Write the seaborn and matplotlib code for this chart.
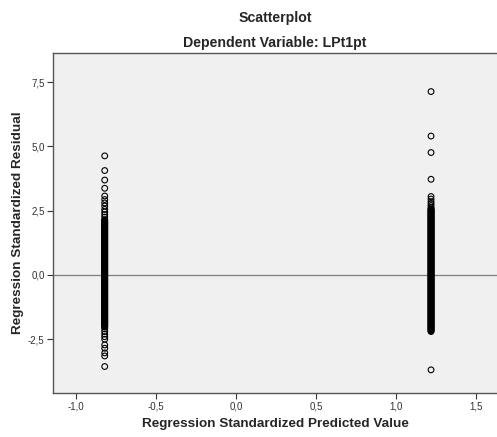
import matplotlib
matplotlib.use("Agg")
import matplotlib.pyplot as plt
import matplotlib.ticker as mticker
import seaborn as sns
import pandas as pd

# Standardized predicted values (two groups of a binary predictor)
pred_left = -0.82
pred_right = 1.218

# Standardized residuals
resid_left = [4.63, 4.06, 3.69, 3.37, 3.07, 2.93, 2.80, 2.68, 2.55, 2.45, 2.35, 2.25,
              2.15, 2.10, 2.05, 2.00, 1.95, 1.90, 1.85, 1.80, 1.75, 1.70, 1.65, 1.60,
              1.55, 1.50, 1.45, 1.40, 1.35, 1.30, 1.25, 1.20, 1.15, 1.10, 1.05, 1.00,
              0.95, 0.90, 0.85, 0.80, 0.75, 0.70, 0.65, 0.60, 0.55, 0.50, 0.45, 0.40,
              0.35, 0.30, 0.25, 0.20, 0.15, 0.10, 0.05, 0.00, -0.05, -0.10, -0.15,
              -0.20, -0.25, -0.30, -0.35, -0.40, -0.45, -0.50, -0.55, -0.60, -0.65,
              -0.70, -0.75, -0.80, -0.85, -0.90, -0.95, -1.00, -1.05, -1.10, -1.15,
              -1.20, -1.25, -1.30, -1.35, -1.40, -1.45, -1.50, -1.55, -1.60, -1.65,
              -1.70, -1.75, -1.80, -1.85, -1.90, -1.95, -2.00, -2.10, -2.20, -2.30,
              -2.40, -2.50, -2.72, -2.85, -3.03, -3.15, -3.56]
resid_left_dense = [2.125, 2.075, 2.025, 1.975, 1.925, 1.875, 1.825, 1.775, 1.725,
                    1.675, 1.625, 1.575, 1.525, 1.475, 1.425, 1.375, 1.325, 1.275,
                    1.225, 1.175, 1.125, 1.075, 1.025, 0.975, 0.925, 0.875, 0.825,
                    0.775, 0.725, 0.675, 0.625, 0.575, 0.525, 0.475, 0.425, 0.375,
                    0.325, 0.275, 0.225, 0.175, 0.125, 0.075, 0.025, -0.025, -0.075,
                    -0.125, -0.175, -0.225, -0.275, -0.325, -0.375, -0.425, -0.475,
                    -0.525, -0.575, -0.625, -0.675, -0.725, -0.775, -0.825, -0.875,
                    -0.925, -0.975, -1.025, -1.075, -1.125, -1.175, -1.225, -1.275,
                    -1.325, -1.375, -1.425, -1.475, -1.525, -1.575, -1.625, -1.675,
                    -1.725, -1.775, -1.825, -1.875, -1.925, -1.975, -2.025]
resid_right = [7.13, 5.40, 4.76, 3.72, 3.05, 2.95, 2.85, 2.78, 2.70, 2.63, 2.55, 2.50,
               2.45, 2.40, 2.35, 2.30, 2.25, 2.20, 2.15, 2.10, 2.05, 2.00, 1.95, 1.90,
               1.85, 1.80, 1.75, 1.70, 1.65, 1.60, 1.55, 1.50, 1.45, 1.40, 1.35, 1.30,
               1.25, 1.20, 1.15, 1.10, 1.05, 1.00, 0.95, 0.90, 0.85, 0.80, 0.75, 0.70,
               0.65, 0.60, 0.55, 0.50, 0.45, 0.40, 0.35, 0.30, 0.25, 0.20, 0.15, 0.10,
               0.05, 0.00, -0.05, -0.10, -0.15, -0.20, -0.25, -0.30, -0.35, -0.40,
               -0.45, -0.50, -0.55, -0.60, -0.65, -0.70, -0.75, -0.80, -0.85, -0.90,
               -0.95, -1.00, -1.05, -1.10, -1.15, -1.20, -1.25, -1.30, -1.35, -1.40,
               -1.45, -1.50, -1.55, -1.60, -1.65, -1.70, -1.75, -1.80, -1.85, -1.90,
               -1.95, -2.00, -2.05, -2.10, -2.15, -2.20, -3.69]
resid_right_dense = [2.575, 2.525, 2.475, 2.425, 2.375, 2.325, 2.275, 2.225, 2.175,
                     2.125, 2.075, 2.025, 1.975, 1.925, 1.875, 1.825, 1.775, 1.725,
                     1.675, 1.625, 1.575, 1.525, 1.475, 1.425, 1.375, 1.325, 1.275,
                     1.225, 1.175, 1.125, 1.075, 1.025, 0.975, 0.925, 0.875, 0.825,
                     0.775, 0.725, 0.675, 0.625, 0.575, 0.525, 0.475, 0.425, 0.375,
                     0.325, 0.275, 0.225, 0.175, 0.125, 0.075, 0.025, -0.025, -0.075,
                     -0.125, -0.175, -0.225, -0.275, -0.325, -0.375, -0.425, -0.475,
                     -0.525, -0.575, -0.625, -0.675, -0.725, -0.775, -0.825, -0.875,
                     -0.925, -0.975, -1.025, -1.075, -1.125, -1.175, -1.225, -1.275,
                     -1.325, -1.375, -1.425, -1.475, -1.525, -1.575, -1.625, -1.675,
                     -1.725, -1.775, -1.825, -1.875, -1.925, -1.975, -2.025, -2.075,
                     -2.125, -2.175]

x_ticks = [-1.0, -0.5, 0.0, 0.5, 1.0, 1.5]
y_ticks = [-2.5, 0.0, 2.5, 5.0, 7.5]

left_all = resid_left + resid_left_dense
right_all = resid_right + resid_right_dense
df = pd.DataFrame({
    "pred": [pred_left] * len(left_all) + [pred_right] * len(right_all),
    "resid": left_all + right_all,
})

sns.set_style("white")
plt.rcParams["font.family"] = ["Liberation Sans", "DejaVu Sans"]

fig = plt.figure(figsize=(4.97, 4.37), dpi=100)
ax = fig.add_axes([53 / 497, 44 / 437, 1 - 53 / 497, (393 - 53) / 437])
ax.set_facecolor("#f0f0f0")

ax.axhline(0, color="#808080", linewidth=0.9, zorder=1)

sns.scatterplot(data=df, x="pred", y="resid", ax=ax, marker="o", s=17,
                facecolors="none", edgecolor="black", linewidth=0.8, zorder=3)

ax.set_xlim(-1.143, 1.63)
ax.set_ylim(-4.59, 8.63)
ax.set_xticks(x_ticks)
ax.set_yticks(y_ticks)
fmt = mticker.FuncFormatter(lambda v, p: f"{v:.1f}".replace(".", ","))
ax.xaxis.set_major_formatter(fmt)
ax.yaxis.set_major_formatter(fmt)
ax.tick_params(axis="both", which="major", labelsize=7, colors="#333333",
               direction="out", length=4, width=0.8, pad=2,
               bottom=True, left=True)

for side in ["top", "left", "bottom"]:
    ax.spines[side].set_color("#555555")
    ax.spines[side].set_linewidth(1.0)
ax.spines["right"].set_visible(False)

ax.set_xlabel("Regression Standardized Predicted Value", fontsize=9.7,
              fontweight="bold", labelpad=5)
ax.set_ylabel("Regression Standardized Residual", fontsize=9.7,
              fontweight="bold", labelpad=3)

cx = (53 + 497) / 2 / 497
fig.text(cx, 1 - 18 / 437, "Scatterplot", ha="center", va="center",
         fontsize=10.2, fontweight="bold")
fig.text(cx, 1 - 43 / 437, "Dependent Variable: LPt1pt", ha="center",
         va="center", fontsize=10.2, fontweight="bold")

fig.savefig("out.png", dpi=100, facecolor="white")
